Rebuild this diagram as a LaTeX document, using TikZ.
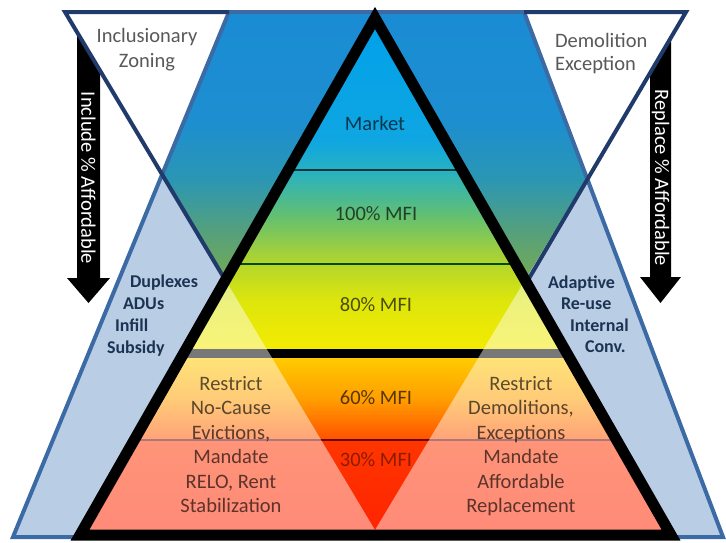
\documentclass[tikz,border=0pt]{standalone}
\usepackage{fontspec}
\setmainfont{Carlito}
\definecolor{lblue}{HTML}{B9CDE5}
\definecolor{steel}{HTML}{3B6AA5}
\definecolor{navy}{HTML}{1F3A6B}
\definecolor{gtext}{HTML}{595959}
\definecolor{boldnavy}{HTML}{1C3353}
% central gradient stops
\definecolor{g0}{HTML}{00A0EB}
\definecolor{g1}{HTML}{0FA6E2}
\definecolor{g2}{HTML}{28B2C0}
\definecolor{g3}{HTML}{62BF72}
\definecolor{g4}{HTML}{B2D52C}
\definecolor{g5}{HTML}{DDE60C}
\definecolor{g6}{HTML}{F6EB00}
\definecolor{g7}{HTML}{FFD000}
\definecolor{g8}{HTML}{FF9C00}
\definecolor{g9}{HTML}{FF5000}
\definecolor{g10}{HTML}{FF3600}
\definecolor{g11}{HTML}{FF2200}
% outer gradient stops
\definecolor{c0}{HTML}{1A8CD4}
\definecolor{c1}{HTML}{1D8ED0}
\definecolor{c2}{HTML}{2A96B4}
\definecolor{c3}{HTML}{58A178}
\definecolor{c4}{HTML}{80AE44}
\begin{document}
\begin{tikzpicture}[x=1pt,y=-1pt,
  every node/.style={inner sep=0pt, outer sep=0pt},
  cornerlbl/.style={font=\fontsize{20.5}{24}\selectfont, text=gtext, anchor=base},
  bandlbl/.style={font=\fontsize{20.5}{24}\selectfont, text=black, text opacity=0.66, anchor=base},
  policy/.style={font=\fontsize{20.5}{24}\selectfont, text=black, text opacity=0.64, anchor=base},
  sidebold/.style={font=\fontsize{18}{22}\selectfont\bfseries, text=boldnavy, anchor=base west},
  arrowtxt/.style={font=\fontsize{20.5}{24}\selectfont, text=white, rotate=-90},
  blockarrow/.style={fill=black},
  navyline/.style={draw=navy, line width=4pt},
  steelline/.style={draw=steel, line width=4pt},
]
\useasboundingbox (0,0) rectangle (726,542);
\fill[white] (0,0) rectangle (726,542);

% key points
\coordinate (T1) at (229,12);
\coordinate (T2) at (524,12);
\coordinate (T3) at (723,537);
\coordinate (T4) at (13,537);
\coordinate (V1) at (65,12);
\coordinate (V2) at (686,12);
\coordinate (V3) at (375,530);
\coordinate (BA) at (375,18);
\coordinate (BL) at (80,535);
\coordinate (BR) at (671,535);
\coordinate (PL) at (225.3,280.1);
\coordinate (PR) at (528,280.1);

% block arrows (behind the white triangles)
\path[blockarrow] (77,20) -- (100,20) -- (100,278) -- (110,278) -- (88.5,303) -- (67,278) -- (77,278) -- cycle;
\path[blockarrow] (650,20) -- (671,20) -- (671,277) -- (681,277) -- (660.5,303) -- (640,277) -- (650,277) -- cycle;
\node[arrowtxt] (inc) at (88.5,178) {Include \% Affordable};
\node[arrowtxt] (rep) at (660.5,178) {Replace \% Affordable};

% light blue trapezoid
\fill[lblue] (T1) -- (T2) -- (T3) -- (T4) -- cycle;
% inverted triangle: white
\fill[white] (V1) -- (V2) -- (V3) -- cycle;
% overlap of both: blue-green gradient
\begin{scope}
  \clip (T1) -- (T2) -- (T3) -- (T4) -- cycle;
  \clip (V1) -- (V2) -- (V3) -- cycle;
  \shade[top color=c0, bottom color=c1] (0,8) rectangle (726,120.5);
  \shade[top color=c1, bottom color=c2] (0,120) rectangle (726,178.5);
  \shade[top color=c2, bottom color=c3] (0,178) rectangle (726,235.5);
  \shade[top color=c3, bottom color=c4] (0,235) rectangle (726,300);
\end{scope}

% central pyramid
\begin{scope}
  \clip (BA) -- (BL) -- (BR) -- cycle;
  \shade[top color=g0, bottom color=g1] (0,10) rectangle (726,140.5);
  \shade[top color=g1, bottom color=g2] (0,140) rectangle (726,172.5);
  \shade[top color=g2, bottom color=g3] (0,172) rectangle (726,215.5);
  \shade[top color=g3, bottom color=g4] (0,215) rectangle (726,262.5);
  \shade[top color=g4, bottom color=g5] (0,262) rectangle (726,300.5);
  \shade[top color=g5, bottom color=g6] (0,300) rectangle (726,353.5);
  \shade[top color=g7, bottom color=g8] (0,353) rectangle (726,400.5);
  \shade[top color=g8, bottom color=g9] (0,400) rectangle (726,440.5);
  \shade[top color=g10, bottom color=g11] (0,440) rectangle (726,540);
  \draw[line width=2.5pt, color=black!55!teal] (0,170) -- (726,170);
  \draw[line width=2.5pt, color=black!70!green] (0,264) -- (726,264);
  \draw[line width=9pt, black] (0,353) -- (726,353);
  \draw[line width=2pt, color=black!60!red] (0,440) -- (726,440);
  % lighter overlay outside the inverted triangle
  \fill[white, opacity=0.47, even odd rule] (0,0) rectangle (726,542) (V1) -- (V2) -- (V3) -- cycle;
\end{scope}

% outlines
\draw[steelline] (T1) -- (T2) -- (T3) -- (T4) -- cycle;
\draw[navyline] (T1) -- (V1) -- (PL);
\draw[navyline] (T2) -- (V2) -- (PR);
\draw[line width=11pt, line join=miter, black] (BA) -- (BL) -- (BR) -- cycle;

% corner labels
\node[cornerlbl] (iz1) at (147,42) {Inclusionary};
\node[cornerlbl] (iz2) at (147,67) {Zoning};
\node[cornerlbl, anchor=base west] (de1) at (555,47) {Demolition};
\node[cornerlbl, anchor=base west] (de2) at (555,70) {Exception};

% band labels
\node[bandlbl] (mk) at (375,130) {Market};
\node[bandlbl] (m100) at (376,220) {100\% MFI};
\node[bandlbl] (m80) at (376,311) {80\% MFI};
\node[bandlbl] (m60) at (376,404) {60\% MFI};
\node[bandlbl, text opacity=0.45] (m30) at (376,466) {30\% MFI};

% side bold labels
\node[sidebold] (l1) at (130,287) {Duplexes};
\node[sidebold] (l2) at (123,309.5) {ADUs};
\node[sidebold] (l3) at (115,331.5) {Infill};
\node[sidebold] (l4) at (107,353) {Subsidy};
\node[sidebold] (r1) at (548,288) {Adaptive};
\node[sidebold] (r2) at (561,309.5) {Re-use};
\node[sidebold] (r3) at (570,331) {Internal};
\node[sidebold] (r4) at (585,352) {Conv.};

% policy texts
\node[policy] (a1) at (231,390) {Restrict};
\node[policy] (a2) at (231,414.5) {No-Cause};
\node[policy] (a3) at (231,439) {Evictions,};
\node[policy] (a4) at (231,463.5) {Mandate};
\node[policy] (a5) at (231,488) {RELO, Rent};
\node[policy] (a6) at (231,512.5) {Stabilization};
\node[policy] (b1) at (521,390) {Restrict};
\node[policy] (b2) at (521,414.5) {Demolitions,};
\node[policy] (b3) at (521,439) {Exceptions};
\node[policy] (b4) at (521,463.5) {Mandate};
\node[policy] (b5) at (521,488) {Affordable};
\node[policy] (b6) at (521,512.5) {Replacement};
\end{tikzpicture}
\end{document}
